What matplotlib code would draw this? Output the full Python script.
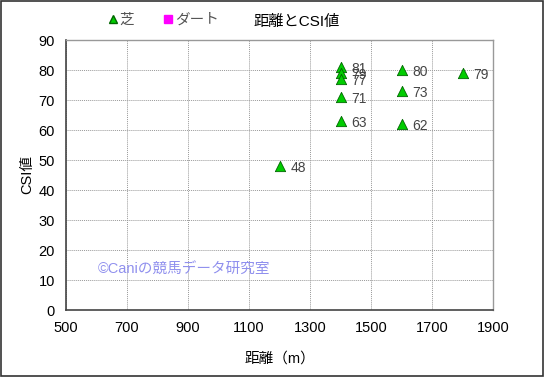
import matplotlib.pyplot as plt
from matplotlib.lines import Line2D

plt.rcParams['font.family'] = ['Liberation Sans', 'Noto Sans CJK JP', 'DejaVu Sans']

# data
turf_dist = [1200, 1400, 1400, 1400, 1400, 1400, 1600, 1600, 1600, 1800]
turf_csi = [48, 81, 79, 77, 71, 63, 80, 73, 62, 79]
dirt_dist = []
dirt_csi = []

fig = plt.figure(figsize=(5.45, 3.77), dpi=100)
ax = fig.add_axes([66 / 545, 1 - 310 / 377, 427 / 545, 270 / 377])

ax.scatter(turf_dist, turf_csi, marker='^', s=55, color='#00cc00',
           edgecolors='#006600', linewidths=0.6, zorder=3)
ax.scatter(dirt_dist, dirt_csi, marker='s', s=30, color='#ff00ff', zorder=3)

for xv, yv in zip(turf_dist, turf_csi):
    ax.annotate(str(yv), (xv, yv), xytext=(8, -4), textcoords='offset points',
                fontsize=10, color='#444444', zorder=4)

ax.set_xlim(500, 1900)
ax.set_ylim(0, 90)
ax.set_xticks(range(500, 1901, 200))
ax.set_yticks(range(0, 91, 10))
ax.tick_params(length=0, labelsize=10.5, pad=8)
ax.grid(True, color='#999999', linestyle=(0, (1, 1)), linewidth=0.7)
ax.set_axisbelow(True)
for s in ['left', 'bottom']:
    ax.spines[s].set_color('#444444')
    ax.spines[s].set_linewidth(1.2)
for s in ['top', 'right']:
    ax.spines[s].set_color('#999999')
    ax.spines[s].set_linewidth(1.0)

ax.set_xlabel('距離（m）', fontsize=10.5, labelpad=12)
ax.set_ylabel('CSI値', fontsize=10.5, labelpad=3)

ax.text(0.075, 0.135, '©Caniの競馬データ研究室', transform=ax.transAxes,
        fontsize=10.5, color='#9090ee', zorder=2)

fig.text(297 / 545, 1 - 22 / 377, '距離とCSI値', ha='center', va='center', fontsize=11)

handles = [Line2D([], [], marker='^', color='#00cc00', markeredgecolor='#006600',
                  linestyle='none', markersize=6),
           Line2D([], [], marker='s', color='#ff00ff', linestyle='none', markersize=6)]
fig.legend(handles, ['芝', 'ダート'], loc='center left', bbox_to_anchor=(95 / 545, 1 - 20 / 377),
           ncol=2, frameon=False, fontsize=10.5, handlelength=0.6, handletextpad=0.2,
           columnspacing=2.0, labelcolor='#555555')

fig.patches.append(plt.Rectangle((0.002, 0.003), 0.995, 0.994, transform=fig.transFigure,
                                 fill=False, edgecolor='#333333', linewidth=1.2))

fig.savefig('out.png', dpi=100)
